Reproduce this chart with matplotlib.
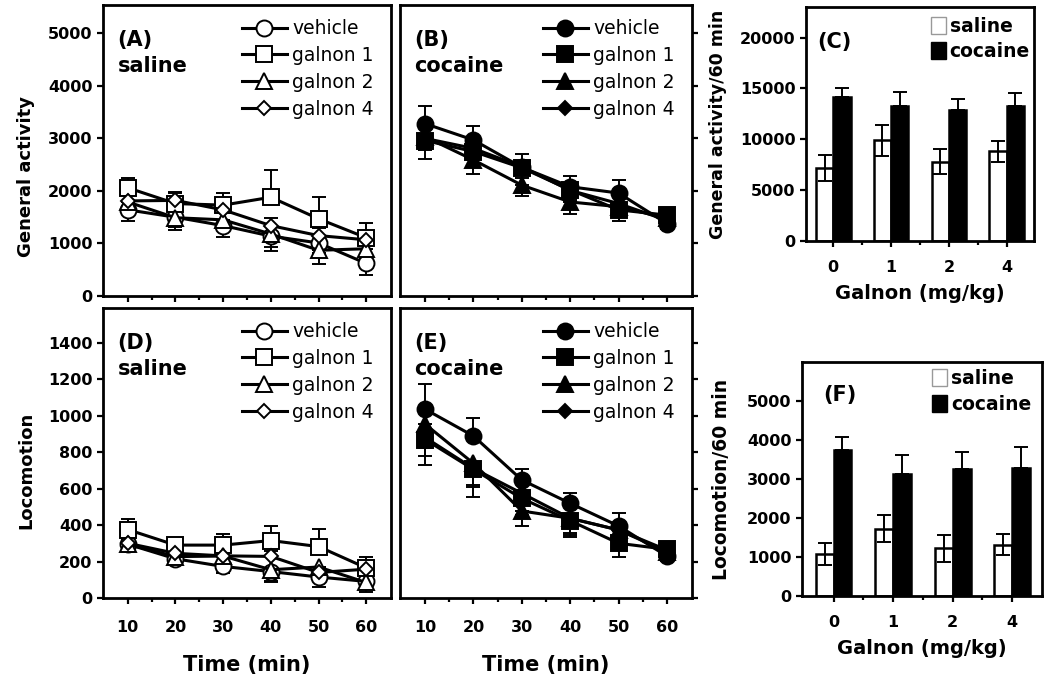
import matplotlib
matplotlib.use('Agg')
import matplotlib.pyplot as plt
import numpy as np
from matplotlib.patches import Patch

plt.rcParams['font.family'] = ['DejaVu Sans']

# ---- data ----
time = [10, 20, 30, 40, 50, 60]
groups = ['vehicle', 'galnon 1', 'galnon 2', 'galnon 4']
doses = ['0', '1', '2', '4']

# general activity, saline (A)
ga_sal = {
    'vehicle': [1640, 1500, 1340, 1140, 1010, 620],
    'galnon 1': [2060, 1760, 1730, 1880, 1470, 1110],
    'galnon 2': [1790, 1490, 1450, 1180, 870, 900],
    'galnon 4': [1810, 1820, 1640, 1340, 1150, 1070],
}
ga_sal_err = {
    'vehicle': [215, 180, 220, 285, 200, 220],
    'galnon 1': [190, 220, 235, 510, 410, 280],
    'galnon 2': [180, 230, 200, 250, 255, 200],
    'galnon 4': [120, 140, 130, 150, 140, 120],
}
# general activity, cocaine (B)
ga_coc = {
    'vehicle': [3280, 2970, 2450, 2080, 1960, 1380],
    'galnon 1': [2960, 2750, 2440, 2020, 1640, 1540],
    'galnon 2': [3030, 2590, 2110, 1790, 1700, 1480],
    'galnon 4': [3000, 2810, 2460, 2010, 1760, 1440],
}
ga_coc_err = {
    'vehicle': [330, 270, 250, 200, 240, 200],
    'galnon 1': [350, 250, 200, 200, 210, 250],
    'galnon 2': [250, 270, 210, 220, 200, 200],
    'galnon 4': [200, 180, 160, 150, 150, 150],
}
# locomotion, saline (D)
lo_sal = {
    'vehicle': [295, 215, 173, 145, 115, 91],
    'galnon 1': [375, 290, 290, 315, 282, 165],
    'galnon 2': [295, 227, 230, 155, 170, 85],
    'galnon 4': [300, 245, 231, 228, 140, 158],
}
lo_sal_err = {
    'vehicle': [30, 36, 37, 50, 55, 40],
    'galnon 1': [58, 40, 60, 80, 95, 60],
    'galnon 2': [30, 40, 45, 70, 50, 50],
    'galnon 4': [25, 25, 25, 30, 30, 30],
}
# locomotion, cocaine (E)
lo_coc = {
    'vehicle': [1035, 888, 647, 519, 395, 230],
    'galnon 1': [869, 705, 546, 424, 300, 267],
    'galnon 2': [953, 738, 477, 437, 373, 254],
    'galnon 4': [880, 710, 574, 437, 373, 263],
}
lo_coc_err = {
    'vehicle': [140, 100, 63, 58, 70, 50],
    'galnon 1': [140, 150, 90, 90, 77, 60],
    'galnon 2': [130, 120, 80, 90, 60, 50],
    'galnon 4': [100, 100, 60, 80, 60, 40],
}
# which side of the point the error bar is drawn
err_side_sal = {'vehicle': 'down', 'galnon 1': 'up', 'galnon 2': 'down', 'galnon 4': 'up'}
err_side_coc = {'vehicle': 'up', 'galnon 1': 'down', 'galnon 2': 'down', 'galnon 4': 'down'}

# totals per 60 min (C, F)
ga_tot_sal = [7150, 9900, 7800, 8800]
ga_tot_sal_err = [1300, 1500, 1250, 1000]
ga_tot_coc = [14150, 13300, 12900, 13300]
ga_tot_coc_err = [900, 1300, 1100, 1200]
lo_tot_sal = [1080, 1730, 1220, 1320]
lo_tot_sal_err = [280, 340, 340, 280]
lo_tot_coc = [3740, 3130, 3260, 3290]
lo_tot_coc_err = [340, 490, 420, 520]

markers = {'vehicle': ('o', 11.5), 'galnon 1': ('s', 11), 'galnon 2': ('^', 12), 'galnon 4': ('D', 7.5)}

W, H = 1050, 682
fig = plt.figure(figsize=(W / 100, H / 100), dpi=100)


def box(x0, y0, x1, y1):
    return [x0 / W, 1 - y1 / H, (x1 - x0) / W, (y1 - y0) / H]


def style(ax):
    for s in ax.spines.values():
        s.set_linewidth(2.0)
    ax.tick_params(which='both', direction='out', width=1.6, labelsize=11.5)
    ax.tick_params(which='major', length=4)
    ax.tick_params(which='minor', length=3)
    for lab in ax.get_xticklabels() + ax.get_yticklabels():
        lab.set_fontweight('bold')


def time_panel(ax, data, errs, sides, filled, ylim, yticks, left_labels, bottom_labels):
    for g in groups:
        m, ms = markers[g]
        y = np.array(data[g])
        e = np.array(errs[g])
        if sides[g] == 'up':
            yerr = [np.zeros_like(e), e]
        else:
            yerr = [e, np.zeros_like(e)]
        ax.errorbar(time, y, yerr=yerr, fmt='none', ecolor='black', elinewidth=1.4,
                    capsize=5, capthick=1.4, zorder=2)
        ax.plot(time, y, color='black', lw=2.2, marker=m, ms=ms,
                mfc='black' if filled else 'white', mec='black', mew=1.4,
                label=g, zorder=3)
    ax.set_xlim(4.8, 65.2)
    ax.set_ylim(*ylim)
    ax.set_xticks(time)
    ax.set_xticks([15, 25, 35, 45, 55], minor=True)
    ax.set_yticks(yticks)
    if left_labels:
        ax.yaxis.tick_left()
    else:
        ax.yaxis.tick_right()
        ax.set_yticklabels([])
    if not bottom_labels:
        ax.set_xticklabels([])
    ax.tick_params(axis='x', pad=12)
    style(ax)
    ax.legend(loc='upper right', bbox_to_anchor=(0.98, 0.99), frameon=False, fontsize=13.5,
              handlelength=2.4, handletextpad=0.3, labelspacing=0.42, borderaxespad=0.2)


axA = fig.add_axes(box(103, 5, 391, 296))
time_panel(axA, ga_sal, ga_sal_err, err_side_sal, False, (0, 5540), range(0, 5001, 1000), True, False)
axA.text(0.05, 0.88, '(A)', transform=axA.transAxes, fontsize=15, fontweight='bold', va='center')
axA.text(0.05, 0.79, 'saline', transform=axA.transAxes, fontsize=15, fontweight='bold', va='center')
axA.set_ylabel('General activity', fontsize=13, fontweight='bold')
axA.yaxis.set_label_coords(-0.235, 0.41)

axB = fig.add_axes(box(400, 5, 692, 296))
time_panel(axB, ga_coc, ga_coc_err, err_side_coc, True, (0, 5540), range(0, 5001, 1000), False, False)
axB.text(0.05, 0.88, '(B)', transform=axB.transAxes, fontsize=15, fontweight='bold', va='center')
axB.text(0.05, 0.79, 'cocaine', transform=axB.transAxes, fontsize=15, fontweight='bold', va='center')

axD = fig.add_axes(box(103, 308, 391, 598))
time_panel(axD, lo_sal, lo_sal_err, err_side_sal, False, (0, 1590), range(0, 1401, 200), True, True)
axD.text(0.05, 0.88, '(D)', transform=axD.transAxes, fontsize=15, fontweight='bold', va='center')
axD.text(0.05, 0.79, 'saline', transform=axD.transAxes, fontsize=15, fontweight='bold', va='center')
axD.set_ylabel('Locomotion', fontsize=13, fontweight='bold')
axD.yaxis.set_label_coords(-0.235, 0.44)
axD.set_xlabel('Time (min)', fontsize=15, fontweight='bold', labelpad=14)

axE = fig.add_axes(box(400, 308, 692, 598))
time_panel(axE, lo_coc, lo_coc_err, err_side_coc, True, (0, 1590), range(0, 1401, 200), False, True)
axE.text(0.05, 0.88, '(E)', transform=axE.transAxes, fontsize=15, fontweight='bold', va='center')
axE.text(0.05, 0.79, 'cocaine', transform=axE.transAxes, fontsize=15, fontweight='bold', va='center')
axE.set_xlabel('Time (min)', fontsize=15, fontweight='bold', labelpad=14)


def bar_panel(ax, sal, sal_err, coc, coc_err, ylim, yticks, xlim, letter, letter_xy,
              ylabel, ylabel_x, ylabel_size, leg_anchor):
    x = np.arange(len(doses))
    bw = 0.3
    ax.bar(x - bw / 2, sal, bw, color='white', edgecolor='black', linewidth=1.8, zorder=2)
    ax.bar(x + bw / 2, coc, bw, color='black', edgecolor='black', linewidth=1.8, zorder=2)
    ax.errorbar(x - bw / 2, sal, yerr=sal_err, fmt='none', ecolor='black', elinewidth=1.4,
                capsize=5, capthick=1.4, zorder=3)
    ax.errorbar(x + bw / 2, coc, yerr=[np.zeros(len(coc)), coc_err], fmt='none', ecolor='black',
                elinewidth=1.4, capsize=5, capthick=1.4, zorder=3)
    ax.set_xlim(*xlim)
    ax.set_ylim(*ylim)
    ax.set_yticks(yticks)
    ax.set_xticks(x)
    ax.set_xticklabels(doses)
    ax.set_xticks(x[:-1] + 0.5, minor=True)
    ax.tick_params(axis='x', pad=10)
    style(ax)
    ax.text(letter_xy[0], letter_xy[1], letter, transform=ax.transAxes, fontsize=15,
            fontweight='bold', va='center')
    handles = [Patch(facecolor='white', edgecolor='#999999', linewidth=1.0),
               Patch(facecolor='black', edgecolor='black')]
    ax.legend(handles, ['saline', 'cocaine'], loc='upper right', bbox_to_anchor=leg_anchor,
              frameon=False, prop={'size': 13.5, 'weight': 'bold'}, handlelength=0.8,
              handleheight=1.0, handletextpad=0.2, labelspacing=0.35, borderaxespad=0.3)
    ax.set_ylabel(ylabel, fontsize=ylabel_size, fontweight='bold')
    ax.yaxis.set_label_coords(ylabel_x, 0.5)
    ax.set_xlabel('Galnon (mg/kg)', fontsize=14, fontweight='bold', labelpad=6)


axC = fig.add_axes(box(806, 7, 1034, 241))
bar_panel(axC, ga_tot_sal, ga_tot_sal_err, ga_tot_coc, ga_tot_coc_err, (0, 23000),
          range(0, 20001, 5000), (-0.47, 3.47), '(C)', (0.05, 0.85),
          'General activity/60 min', -0.345, 12.5, (1.04, 1.015))

axF = fig.add_axes(box(802, 362, 1042, 596))
bar_panel(axF, lo_tot_sal, lo_tot_sal_err, lo_tot_coc, lo_tot_coc_err, (0, 6000),
          range(0, 5001, 1000), (-0.53, 3.5), '(F)', (0.09, 0.86),
          'Locomotion/60 min', -0.295, 13.5, (1.01, 1.025))

fig.savefig('out.png', dpi=100)
